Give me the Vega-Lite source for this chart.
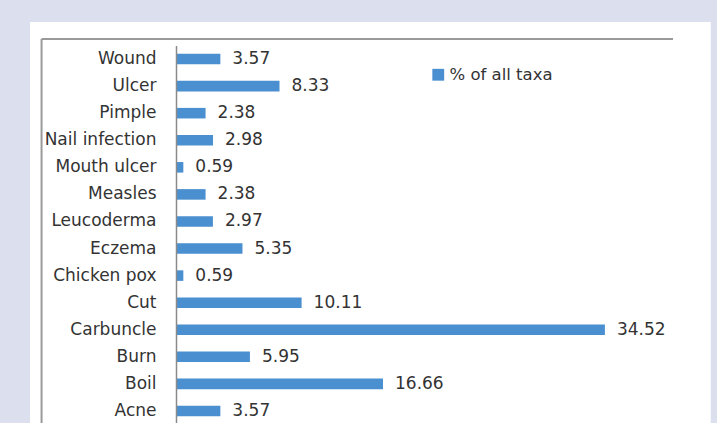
{
  "$schema": "https://vega.github.io/schema/vega-lite/v6.json",
  "width": 497,
  "height": 379,
  "autosize": "none",
  "padding": {"left": 176, "top": 45.5, "right": 44, "bottom": 0},
  "background": "#dcdfee",
  "config": {
    "view": {"stroke": null},
    "legend": {
      "labelFont": "DejaVu Sans",
      "labelFontSize": 16.5,
      "labelColor": "#333333",
      "symbolType": "square",
      "symbolSize": 140,
      "symbolStrokeWidth": 0,
      "labelOffset": 3
    }
  },
  "data": {
    "values": [
      {"disease": "Wound", "value": 3.57},
      {"disease": "Ulcer", "value": 8.33},
      {"disease": "Pimple", "value": 2.38},
      {"disease": "Nail infection", "value": 2.98},
      {"disease": "Mouth ulcer", "value": 0.59},
      {"disease": "Measles", "value": 2.38},
      {"disease": "Leucoderma", "value": 2.97},
      {"disease": "Eczema", "value": 5.35},
      {"disease": "Chicken pox", "value": 0.59},
      {"disease": "Cut", "value": 10.11},
      {"disease": "Carbuncle", "value": 34.52},
      {"disease": "Burn", "value": 5.95},
      {"disease": "Boil", "value": 16.66},
      {"disease": "Acne", "value": 3.57}
    ]
  },
  "layer": [
    {
      "data": {"values": [{}]},
      "layer": [
        {
          "mark": {"type": "rect", "fill": "#ffffff"},
          "encoding": {
            "x": {"datum": -11.75, "type": "quantitative", "scale": {"domain": [0, 40], "nice": false, "zero": false}, "axis": null},
            "x2": {"datum": 43.04},
            "y": {"datum": 1.062, "type": "quantitative", "scale": {"domain": [0, 1], "nice": false, "zero": false}, "axis": null},
            "y2": {"datum": -0.2}
          }
        },
        {
          "mark": {"type": "rule", "stroke": "#9a9a9a", "strokeWidth": 2},
          "encoding": {
            "x": {"datum": -10.82, "type": "quantitative"},
            "x2": {"datum": 40},
            "y": {"datum": 1.0172, "type": "quantitative"}
          }
        },
        {
          "mark": {"type": "rule", "stroke": "#9a9a9a", "strokeWidth": 2},
          "encoding": {
            "x": {"datum": -10.82, "type": "quantitative"},
            "y": {"datum": 1.0172, "type": "quantitative"},
            "y2": {"datum": -0.2}
          }
        }
      ]
    },
    {
      "layer": [
        {
          "mark": {"type": "bar"},
          "encoding": {
            "y": {
              "field": "disease", "type": "nominal", "sort": null,
              "scale": {"paddingInner": 0.61, "paddingOuter": 0.305},
              "axis": {
                "orient": "left",
                "zindex": 2,
                "title": null,
                "ticks": false,
                "labelPadding": 20,
                "labelFont": "DejaVu Sans",
                "labelFontSize": 17,
                "labelColor": "#333333",
                "domain": true,
                "domainColor": "#8a8a8a",
                "domainWidth": 1.5,
                "labelLimit": 0
              }
            },
            "x": {"field": "value", "type": "quantitative", "scale": {"domain": [0, 40], "nice": false, "zero": false}, "axis": null},
            "color": {
              "datum": "% of all taxa",
              "scale": {"range": ["#4a8fd0"]},
              "legend": {"title": null, "orient": "none", "legendX": 254, "legendY": 21}
            }
          }
        },
        {
          "mark": {"type": "text", "align": "left", "baseline": "middle", "dx": 12, "font": "DejaVu Sans", "fontSize": 17, "fill": "#333333"},
          "encoding": {
            "y": {"field": "disease", "type": "nominal", "sort": null},
            "x": {"field": "value", "type": "quantitative"},
            "text": {"field": "value", "type": "quantitative", "format": ".2f"}
          }
        }
      ]
    }
  ],
  "resolve": {"scale": {"y": "independent"}}
}
